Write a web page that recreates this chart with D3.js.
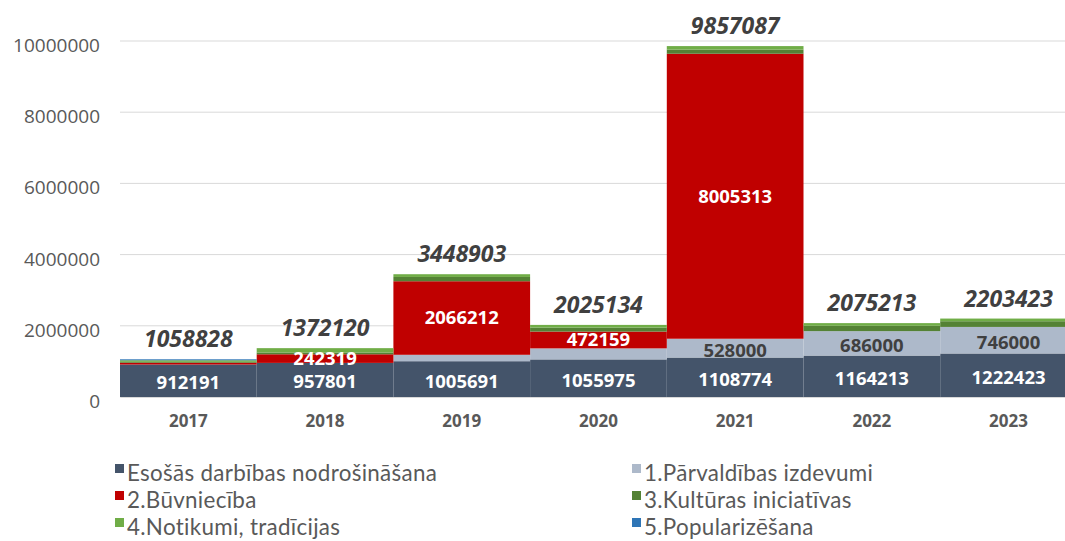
<!DOCTYPE html>
<html>
<head>
<meta charset="utf-8">
<script src="https://cdn.jsdelivr.net/npm/d3@7"></script>
<style>
  html, body { margin: 0; padding: 0; background: #fff; }
  svg { display: block; font-family: "Open Sans", sans-serif; }
</style>
</head>
<body>
<div id="viz"></div>
<script>
// data
const years = ["2017", "2018", "2019", "2020", "2021", "2022", "2023"];
const esosas = [912191, 957801, 1005691, 1055975, 1108774, 1164213, 1222423];
const parvaldiba = [0, 0, 180000, 310000, 528000, 686000, 746000];
const buvnieciba = [50000, 242319, 2066212, 472159, 8005313, 0, 0];
const kultura = [25000, 50000, 120000, 110000, 115000, 150000, 160000];
const notikumi = [45000, 122000, 77000, 77000, 100000, 75000, 75000];
const popularizesana = [26637, 0, 0, 0, 0, 0, 0];
const totals = [1058828, 1372120, 3448903, 2025134, 9857087, 2075213, 2203423];
const yTicks = [0, 2000000, 4000000, 6000000, 8000000, 10000000];

const seriesNames = [
    "Esošās darbības nodrošināšana",
    "1.Pārvaldības izdevumi",
    "2.Būvniecība",
    "3.Kultūras iniciatīvas",
    "4.Notikumi, tradīcijas",
    "5.Popularizēšana"
];
const seriesValues = [esosas, parvaldiba, buvnieciba, kultura, notikumi, popularizesana];
const colors = ["#44546A", "#ADB9CA", "#C00000", "#548235", "#70AD47", "#2E75B6"];
// which segments carry a label, and in what colour
const labelMin = [0, 500000, 200000, Infinity, Infinity, Infinity];
const labelColor = ["#ffffff", "#404040", "#ffffff", null, null, null];
const labelShift = [2, 2, 0, 0, 0, 0];

const width = 1065;
const height = 541;

const svg = d3.select("#viz")
    .append("svg")
    .attr("width", width)
    .attr("height", height);

const table = years.map((y, i) => {
    const row = {year: y};
    seriesNames.forEach((s, k) => row[s] = seriesValues[k][i]);
    return row;
});

const stack = d3.stack().keys(seriesNames);
const layers = stack(table);

const xScale = d3.scaleBand()
    .domain(years)
    .range([120, 120 + 7 * 136.7])
    .padding(0);

const yScale = d3.scaleLinear()
    .domain([0, 10000000])
    .range([397, 41]);

// gridlines
svg.append("g")
    .selectAll("line")
    .data(yTicks)
    .enter().append("line")
        .attr("x1", 120)
        .attr("x2", width)
        .attr("y1", d => yScale(d))
        .attr("y2", d => yScale(d))
        .attr("stroke", "#d9d9d9")
        .attr("stroke-width", 1);

// y axis labels
const yAxis = d3.axisLeft(yScale)
    .tickValues(yTicks)
    .tickFormat(d3.format("d"))
    .tickSize(0)
    .tickPadding(20);

const yAxisG = svg.append("g")
    .attr("transform", "translate(120,0)")
    .call(yAxis);
yAxisG.select(".domain").remove();
yAxisG.selectAll("text")
    .attr("dy", "0.55em")
    .attr("fill", "#595959")
    .style("font-size", "19px")
    .style("font-family", "'Open Sans', sans-serif");

// bars
const layerG = svg.append("g")
    .selectAll("g")
    .data(layers)
    .enter().append("g")
        .attr("fill", (d, i) => colors[i]);

layerG.selectAll("rect")
    .data(d => d)
    .enter().append("rect")
        .attr("x", d => xScale(d.data.year))
        .attr("width", xScale.bandwidth())
        .attr("y", d => yScale(d[1]))
        .attr("height", d => yScale(d[0]) - yScale(d[1]));

// segment labels
layers.forEach((layer, k) => {
    svg.append("g")
        .selectAll("text")
        .data(layer.filter(d => (d[1] - d[0]) > 0 && (d[1] - d[0]) >= labelMin[k]))
        .enter().append("text")
            .attr("x", d => xScale(d.data.year) + xScale.bandwidth() / 2)
            .attr("y", d => (yScale(d[0]) + yScale(d[1])) / 2 + labelShift[k])
            .attr("dy", "0.35em")
            .attr("text-anchor", "middle")
            .attr("fill", labelColor[k])
            .style("font-size", "18.5px")
            .style("font-weight", "bold")
            .text(d => d[1] - d[0]);
});

// totals
svg.append("g")
    .selectAll("text")
    .data(totals)
    .enter().append("text")
        .attr("x", (d, i) => xScale(years[i]) + xScale.bandwidth() / 2)
        .attr("y", d => yScale(d) - 12)
        .attr("text-anchor", "middle")
        .attr("fill", "#404040")
        .style("font-size", "23px")
        .style("font-weight", "bold")
        .style("font-style", "italic")
        .text(d => d);

// x axis
const xAxis = d3.axisBottom(xScale)
    .tickSize(0)
    .tickPadding(18);
const xAxisG = svg.append("g")
    .attr("transform", "translate(0,397)")
    .call(xAxis);
xAxisG.select(".domain").attr("stroke", "#d9d9d9");
xAxisG.selectAll("text")
    .attr("fill", "#595959")
    .style("font-size", "17px")
    .style("font-weight", "bold")
    .style("font-family", "'Open Sans', sans-serif");

// legend (Lato keeps three rows inside the 27px pitch)
const legend = svg.append("g")
    .selectAll("g")
    .data(seriesNames)
    .enter().append("g")
        .attr("transform", (d, i) => `translate(${i % 2 === 0 ? 115 : 632}, ${464 + Math.floor(i / 2) * 27})`);

legend.append("rect")
    .attr("width", 9)
    .attr("height", 9)
    .attr("fill", (d, i) => colors[i]);

legend.append("text")
    .attr("x", 12)
    .attr("y", 17)
    .attr("fill", "#595959")
    .style("font-family", "Lato, sans-serif")
    .style("font-size", "22.4px")
    .style("letter-spacing", "0.3px")
    .text(d => d);
</script>
</body>
</html>
